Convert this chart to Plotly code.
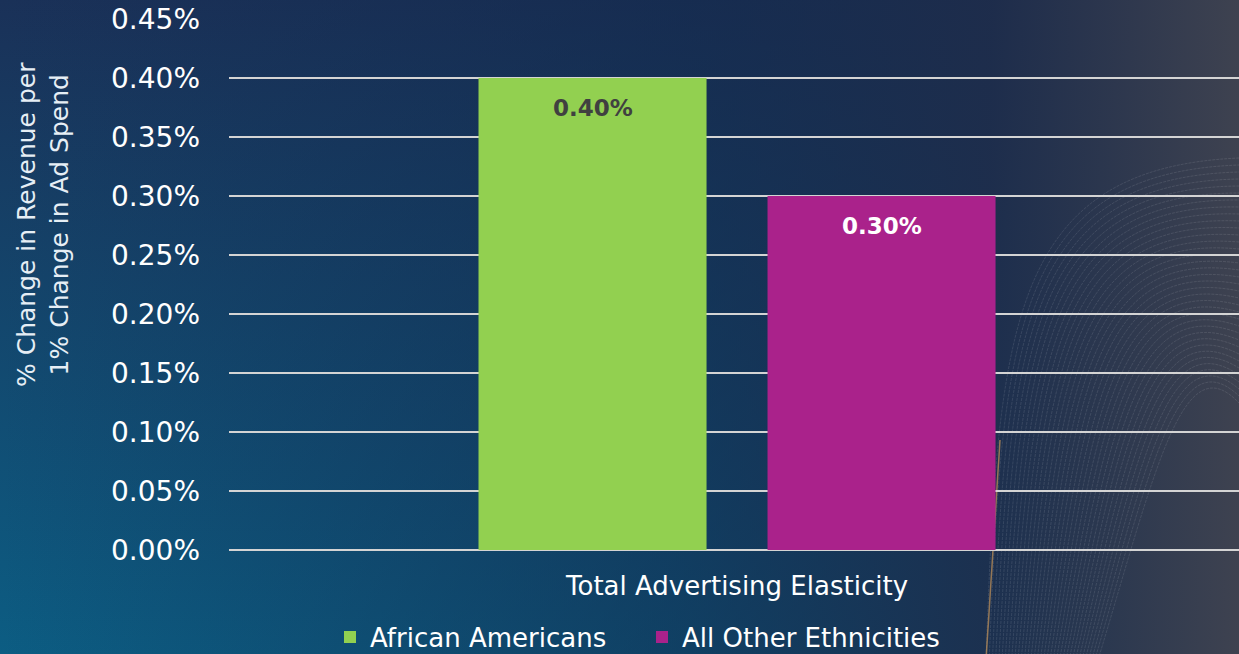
import plotly.graph_objects as go
import urllib.parse

categories = ["Total Advertising Elasticity"]
series_names = ["African Americans", "All Other Ethnicities"]
african_americans = [0.40]
all_other = [0.30]
series_values = [african_americans, all_other]
bar_colors = ["#92d050", "#aa228b"]
label_colors = ["#404040", "#ffffff"]
tick_vals = [0.00, 0.05, 0.10, 0.15, 0.20, 0.25, 0.30, 0.35, 0.40, 0.45]

W, H = 1239, 654
L, R, T, B = 229, 0, 19, 104
pw, ph = W - L - R, H - T - B
BARGAP = 0.4277

# decorative background (gradient + faint curved lines)
curves = []
for i in range(36):
    x0 = 986 + i * 3.2
    curves.append(
        f"<path d='M{x0:.1f},660 C{998 + i * 4.5:.1f},{330 + i * 4:.1f} {1008 + i * 5:.1f},{168 + i * 5:.1f} 1239,{158 + i * 7:.1f}' "
        f"fill='none' stroke='#ffffff' stroke-opacity='0.10' stroke-width='1' stroke-dasharray='3,1'/>"
    )
curves.append("<path d='M986,660 C992,560 996,500 1000,440' fill='none' stroke='#c8965a' stroke-opacity='0.7' stroke-width='1.5'/>")
bg_svg = (
    "<svg xmlns='http://www.w3.org/2000/svg' width='1239' height='654' viewBox='0 0 1239 654' preserveAspectRatio='none'>"
    "<defs>"
    "<linearGradient id='a' x1='0' y1='0' x2='0' y2='1'>"
    "<stop offset='0' stop-color='#1a3158'/><stop offset='1' stop-color='#0c5d83'/></linearGradient>"
    "<linearGradient id='b' x1='0' y1='0' x2='1' y2='0'>"
    "<stop offset='0' stop-color='#142a4e' stop-opacity='0'/>"
    "<stop offset='0.55' stop-color='#13284a' stop-opacity='0.55'/>"
    "<stop offset='0.8' stop-color='#1e2c4a' stop-opacity='0.9'/>"
    "<stop offset='1' stop-color='#3e4250' stop-opacity='1'/></linearGradient>"
    "</defs>"
    "<rect width='1239' height='654' fill='url(#a)'/>"
    "<rect width='1239' height='654' fill='url(#b)'/>"
    + "".join(curves) +
    "</svg>"
)
bg_uri = "data:image/svg+xml;charset=utf-8," + urllib.parse.quote(bg_svg)

fig = go.Figure()
n = len(series_names)
slot = (1 - BARGAP) / n
annotations = []
for k, (name, vals, col, lc) in enumerate(zip(series_names, series_values, bar_colors, label_colors)):
    fig.add_trace(go.Bar(
        x=categories, y=vals, name=name,
        marker=dict(color=col, line=dict(width=0)),
    ))
    for ci, v in enumerate(vals):
        annotations.append(dict(
            x=ci - (1 - BARGAP) / 2 + slot * (k + 0.5), y=v, xref="x", yref="y",
            text=f"<b>{v:.2f}%</b>", showarrow=False, yanchor="middle", yshift=-30,
            font=dict(family="DejaVu Sans", size=23, color=lc),
        ))

fig.update_layout(
    width=W, height=H,
    margin=dict(l=L, r=R, t=T, b=B, pad=0, autoexpand=False),
    paper_bgcolor="#123a60",
    plot_bgcolor="rgba(0,0,0,0)",
    barmode="group", bargap=BARGAP, bargroupgap=0.211,
    showlegend=True,
    legend=dict(orientation="h", x=(330 - L) / pw, xanchor="left",
                y=(550 - 637) / ph, yanchor="middle",
                font=dict(family="DejaVu Sans", size=26, color="#ffffff"),
                bgcolor="rgba(0,0,0,0)", itemwidth=30, entrywidth=267,
                traceorder="normal"),
    images=[dict(source=bg_uri, xref="paper", yref="paper",
                 x=-L / pw, y=1 + T / ph, sizex=W / pw, sizey=H / ph,
                 xanchor="left", yanchor="top", sizing="stretch", layer="below")],
    annotations=annotations + [dict(
        text="% Change in Revenue per<br>1% Change in Ad Spend", textangle=-90,
        xref="paper", yref="paper", x=(43 - L) / pw, y=(550 - 225) / ph,
        xanchor="center", yanchor="middle", showarrow=False,
        font=dict(family="DejaVu Sans", size=25, color="#e6eef5"),
    )],
)
fig.update_xaxes(
    range=[-0.503, 0.497],
    showgrid=False, showline=False, ticks="", ticklabelstandoff=18,
    tickfont=dict(family="DejaVu Sans", size=26, color="#ffffff"),
)
fig.update_yaxes(
    range=[0, 0.45], tickvals=tick_vals,
    ticktext=[f"{v:.2f}%" for v in tick_vals],
    showgrid=True, gridcolor="#d4d4d4", gridwidth=2,
    zeroline=True, zerolinecolor="#d4d4d4", zerolinewidth=2,
    showline=False, ticks="", ticklabelstandoff=28,
    tickfont=dict(family="DejaVu Sans", size=28, color="#ffffff"),
)

fig.write_html("out.html")
